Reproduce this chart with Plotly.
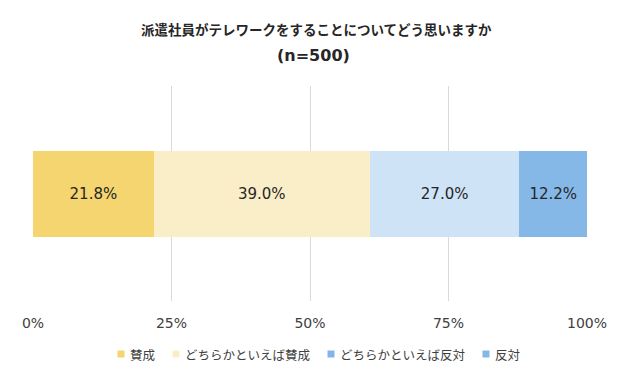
import plotly.graph_objects as go

categories = ["派遣社員"]
series_names = ["賛成", "どちらかといえば賛成", "どちらかといえば反対", "反対"]
values = [21.8, 39.0, 27.0, 12.2]
bar_colors = ["#F5D56F", "#FAEEC8", "#CFE3F6", "#85B8E6"]
legend_colors = ["#F5D56F", "#FAEEC8", "#7FB5E8", "#85B8E6"]
tick_vals = [0, 25, 50, 75, 100]
tick_text = ["0%", "25%", "50%", "75%", "100%"]
title_line1 = "派遣社員がテレワークをすることについてどう思いますか"
title_line2 = "(n=500)"

CJK = "Noto Sans CJK JP"
LAT = "DejaVu Sans, Noto Sans CJK JP"

# The page body has an 8px default margin; build the figure in page pixels minus that offset
OFF = 8
W, H = 630 - OFF, 386 - OFF
PLOT_L, PLOT_R, PLOT_T, PLOT_B = 33, 587, 86, 301   # page pixels
ML = PLOT_L - OFF
MR = W - (PLOT_R - OFF)
MT = PLOT_T - OFF
MB = H - (PLOT_B - OFF)
pw = W - ML - MR
ph = H - MT - MB

def px_to_paper_x(px):
    return (px - OFF - ML) / pw

def px_to_paper_y(py):
    return (H - MB - (py - OFF)) / ph

fig = go.Figure()
for name, v, c in zip(series_names, values, bar_colors):
    fig.add_trace(go.Bar(
        y=categories, x=[v], orientation="h", name=name,
        marker=dict(color=c, line=dict(width=0)),
        text=[f"{v:.1f}%"], textposition="inside", insidetextanchor="middle",
        textfont=dict(size=15, color="#262626", family=LAT),
        showlegend=False, width=0.4,
    ))

# Custom legend (swatch + label)
LEG_FS = 12.5
SW = 7
SW_GAP = 3
ITEM_GAP = 20
LEG_Y = 354
item_widths = [SW + SW_GAP + len(n) * LEG_FS for n in series_names]
total = sum(item_widths) + ITEM_GAP * (len(series_names) - 1)
center_px = 317.5
x_px = center_px - total / 2

shapes = []
annotations = []
for name, c, iw in zip(series_names, legend_colors, item_widths):
    shapes.append(dict(type="rect", xref="paper", yref="paper",
                       x0=px_to_paper_x(x_px), x1=px_to_paper_x(x_px + SW),
                       y0=px_to_paper_y(LEG_Y + SW / 2), y1=px_to_paper_y(LEG_Y - SW / 2),
                       fillcolor=c, line=dict(width=0)))
    annotations.append(dict(text=name, xref="paper", yref="paper",
                            x=px_to_paper_x(x_px + SW + SW_GAP), y=px_to_paper_y(LEG_Y),
                            xanchor="left", yanchor="middle", showarrow=False,
                            font=dict(size=LEG_FS, color="#404040", family=CJK)))
    x_px += iw + ITEM_GAP

# Title lines
annotations.append(dict(text=title_line1, xref="paper", yref="paper",
                        x=px_to_paper_x(316.5), y=px_to_paper_y(29),
                        xanchor="center", yanchor="middle", showarrow=False,
                        font=dict(size=13.5, color="#262626", family=CJK, weight="bold")))
annotations.append(dict(text=title_line2, xref="paper", yref="paper",
                        x=px_to_paper_x(313), y=px_to_paper_y(55),
                        xanchor="center", yanchor="middle", showarrow=False,
                        font=dict(size=16, color="#262626", family=LAT, weight="bold")))

fig.update_layout(
    width=W, height=H,
    barmode="stack",
    paper_bgcolor="white", plot_bgcolor="white",
    margin=dict(l=ML, r=MR, t=MT, b=MB, autoexpand=False),
    font=dict(family=CJK, color="#404040"),
    xaxis=dict(range=[0, 100], tickvals=tick_vals, ticktext=tick_text,
               showgrid=True, gridcolor="#D9D9D9", gridwidth=1, zeroline=False,
               showline=False, ticks="", ticklabelstandoff=12, automargin=False,
               tickfont=dict(size=14, color="#404040", family=LAT), fixedrange=True),
    yaxis=dict(showticklabels=False, showgrid=False, zeroline=False, automargin=False,
               range=[-0.5, 0.5], fixedrange=True),
    shapes=shapes,
    annotations=annotations,
    showlegend=False,
)

fig.write_html("out.html")
